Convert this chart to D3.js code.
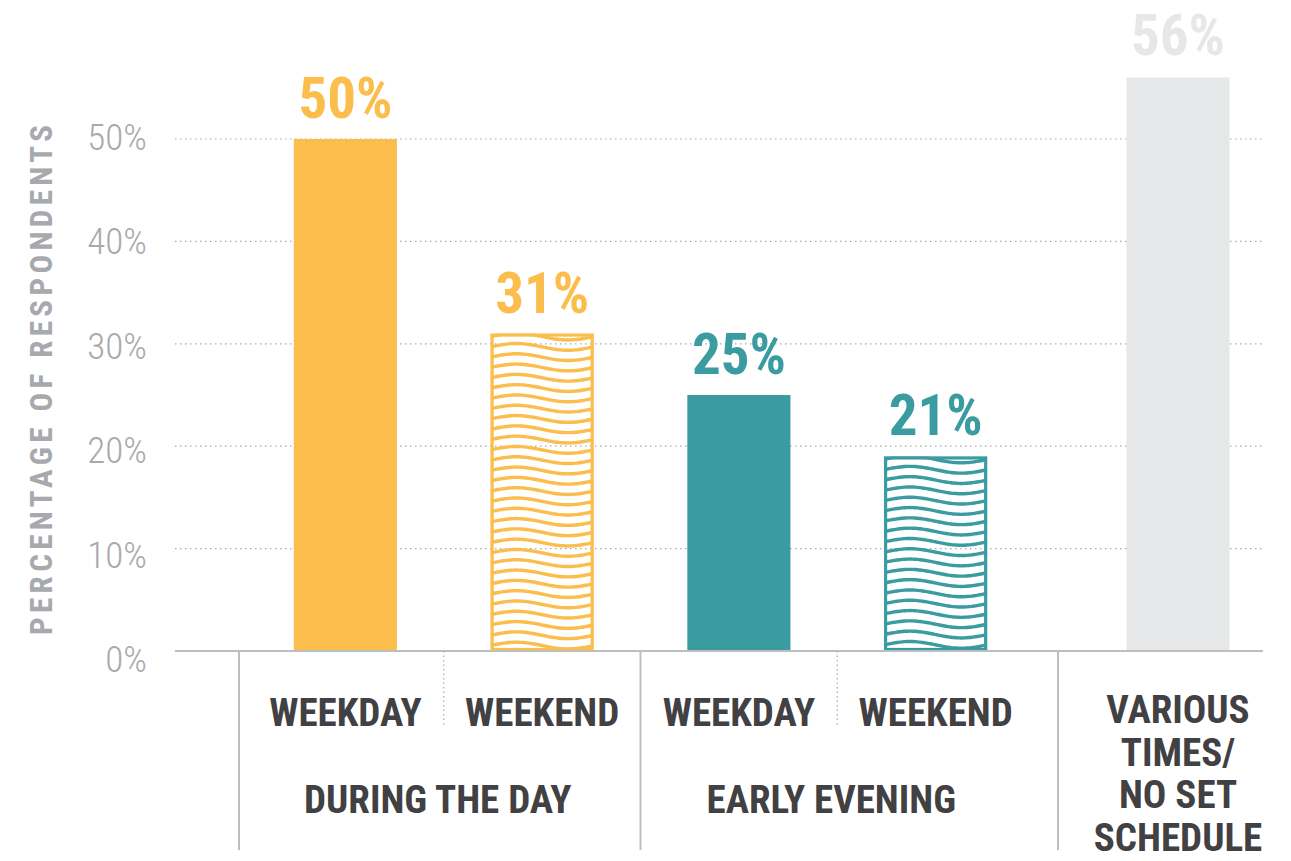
<!DOCTYPE html>
<html>
  <meta charset="utf-8" />
  <head>
    <script src="https://cdnjs.cloudflare.com/ajax/libs/d3/7.8.5/d3.min.js"></script>
    <style>
      body { margin: 0; background: #fff; }
      text { font-family: "Liberation Sans Narrow", "Arial Narrow", "Roboto Condensed", "Liberation Sans", sans-serif; }
    </style>
  </head>
  <body>
    <script>
    // data
    const slots = ["day-weekday", "day-weekend", "eve-weekday", "eve-weekend"];
    const slotLabels = ["WEEKDAY", "WEEKEND", "WEEKDAY", "WEEKEND"];
    const slotValues = [50, 31, 25, 19];
    const slotValueLabels = ["50%", "31%", "25%", "21%"];
    const slotHatched = [false, true, false, true];
    const groups = ["DURING THE DAY", "EARLY EVENING"];
    const otherLabel = ["VARIOUS", "TIMES/", "NO SET", "SCHEDULE"];
    const otherValue = 56;
    const otherValueLabel = "56%";
    const yTicks = [0, 10, 20, 30, 40, 50];
    const yTitle = "PERCENTAGE OF RESPONDENTS";

    const yellow = "#fbbd4c", teal = "#3a9ba1", lightGray = "#e6e7e8";
    const groupColors = [yellow, yellow, teal, teal];
    const tickGray = "#a7a9ac", darkText = "#414042", lineGray = "#bcbec0";

    const width = 1291, height = 861;
    const svg = d3.select("body").append("svg")
        .attr("width", width)
        .attr("height", height);

    const y = d3.scaleLinear().domain([0, 50]).range([651, 139]);
    // tick labels sit slightly spread vs the gridlines in the original
    const yLab = d3.scaleLinear().domain([0, 50]).range([659, 137]);
    const x = d3.scaleBand().domain(slots).range([247, 1034])
        .paddingInner(0.476).paddingOuter(0.238);
    const x2 = d3.scalePoint().domain(["various"]).range([1058, 1298]).padding(0.5);
    const bw = x.bandwidth();
    const gridLeft = 175, gridRight = 1263;

    // gridlines
    svg.append("g").selectAll("line")
        .data(yTicks.filter(d => d > 0))
        .join("line")
        .attr("x1", gridLeft).attr("x2", gridRight)
        .attr("y1", d => y(d)).attr("y2", d => y(d))
        .attr("stroke", "#a7a9ac")
        .attr("stroke-width", 1.2)
        .attr("stroke-dasharray", "1.5,3.5");

    // tick labels
    svg.append("g").selectAll("text")
        .data(yTicks)
        .join("text")
        .attr("x", 147)
        .attr("y", d => yLab(d) + 13)
        .attr("text-anchor", "end")
        .attr("fill", tickGray)
        .attr("font-weight", 300)
        .attr("font-size", 37)
        .text(d => d + "%");

    // y title
    svg.append("text")
        .attr("transform", `translate(52, ${380}) rotate(-90)`)
        .attr("text-anchor", "middle")
        .attr("fill", tickGray)
        .attr("font-weight", "bold")
        .attr("font-size", 31)
        .attr("textLength", 510)
        .attr("lengthAdjust", "spacing")
        .text(yTitle);

    // wave clip + patterns
    const defs = svg.append("defs");
    const waveGap = 10.3, amp = 3.4;

    const bars = svg.append("g").selectAll("g")
        .data(slots.map((s, i) => ({ key: s, v: slotValues[i], lab: slotValueLabels[i], hatch: slotHatched[i], color: groupColors[i], i })))
        .join("g");

    bars.each(function (d) {
        const g = d3.select(this);
        const x0 = x(d.key), y0 = y(d.v), h = y(0) - y0;
        if (!d.hatch) {
            g.append("rect").attr("x", x0).attr("y", y0).attr("width", bw).attr("height", h).attr("fill", d.color);
        } else {
            const id = "clip-" + d.key;
            defs.append("clipPath").attr("id", id)
                .append("rect").attr("x", x0).attr("y", y0).attr("width", bw).attr("height", h);
            const wave = d3.line().curve(d3.curveBasis);
            const wg = g.append("g").attr("clip-path", `url(#${id})`);
            const n = Math.ceil(h / waveGap) + 1;
            for (let k = 0; k < n; k++) {
                const base = y0 + 3 + k * waveGap;
                const pts = d3.range(0, 41).map(j => {
                    const t = j / 40;
                    return [x0 + t * bw, base - amp * Math.sin(2 * Math.PI * t)];
                });
                wg.append("path").attr("d", wave(pts))
                    .attr("fill", "none").attr("stroke", d.color).attr("stroke-width", 3.4);
            }
            g.append("rect").attr("x", x0 + 1.5).attr("y", y0 + 1.5)
                .attr("width", bw - 3).attr("height", h - 3)
                .attr("fill", "none").attr("stroke", d.color).attr("stroke-width", 3.2);
        }
        g.append("text")
            .attr("x", x0 + bw / 2).attr("y", y0 - 21)
            .attr("text-anchor", "middle")
            .attr("fill", d.color).attr("font-weight", "bold").attr("font-size", 57)
            .text(d.lab);
    });

    // other bar
    svg.append("rect")
        .attr("x", x2("various") - bw / 2).attr("y", y(otherValue))
        .attr("width", bw).attr("height", y(0) - y(otherValue))
        .attr("fill", lightGray);
    svg.append("text")
        .attr("x", x2("various")).attr("y", y(otherValue) - 23)
        .attr("text-anchor", "middle")
        .attr("fill", lightGray).attr("font-weight", "bold").attr("font-size", 57)
        .text(otherValueLabel);

    // baseline
    svg.append("line")
        .attr("x1", gridLeft).attr("x2", gridRight)
        .attr("y1", y(0)).attr("y2", y(0))
        .attr("stroke", lineGray).attr("stroke-width", 2);

    // separators
    const step = x.step();
    const left = x.range()[0] - 8;
    const solidX = [left, x(slots[2]) - step * 0.476 / 2, x2.range()[0]];
    svg.append("g").selectAll("line")
        .data(solidX)
        .join("line")
        .attr("x1", d => d).attr("x2", d => d)
        .attr("y1", y(0)).attr("y2", 850)
        .attr("stroke", lineGray).attr("stroke-width", 2);
    const dottedX = [x(slots[1]) - step * 0.476 / 2, x(slots[3]) - step * 0.476 / 2];
    svg.append("g").selectAll("line")
        .data(dottedX)
        .join("line")
        .attr("x1", d => d).attr("x2", d => d)
        .attr("y1", y(0)).attr("y2", 727)
        .attr("stroke", "#a7a9ac").attr("stroke-width", 1.2)
        .attr("stroke-dasharray", "1.5,3");

    // category labels
    svg.append("g").selectAll("text")
        .data(slots)
        .join("text")
        .attr("x", d => x(d) + bw / 2)
        .attr("y", 726)
        .attr("text-anchor", "middle")
        .attr("fill", darkText).attr("font-weight", "bold").attr("font-size", 39)
        .text((d, i) => slotLabels[i]);

    svg.append("g").selectAll("text")
        .data(groups)
        .join("text")
        .attr("x", (d, i) => (x(slots[i * 2]) + x(slots[i * 2 + 1]) + bw) / 2 - 6)
        .attr("y", 813)
        .attr("text-anchor", "middle")
        .attr("fill", darkText).attr("font-weight", "bold").attr("font-size", 39)
        .text(d => d);

    svg.append("g").selectAll("text")
        .data(otherLabel)
        .join("text")
        .attr("x", x2("various"))
        .attr("y", (d, i) => 723 + i * 42.5)
        .attr("text-anchor", "middle")
        .attr("fill", darkText).attr("font-weight", "bold").attr("font-size", 39)
        .text(d => d);
</script>
</body>
</html>
